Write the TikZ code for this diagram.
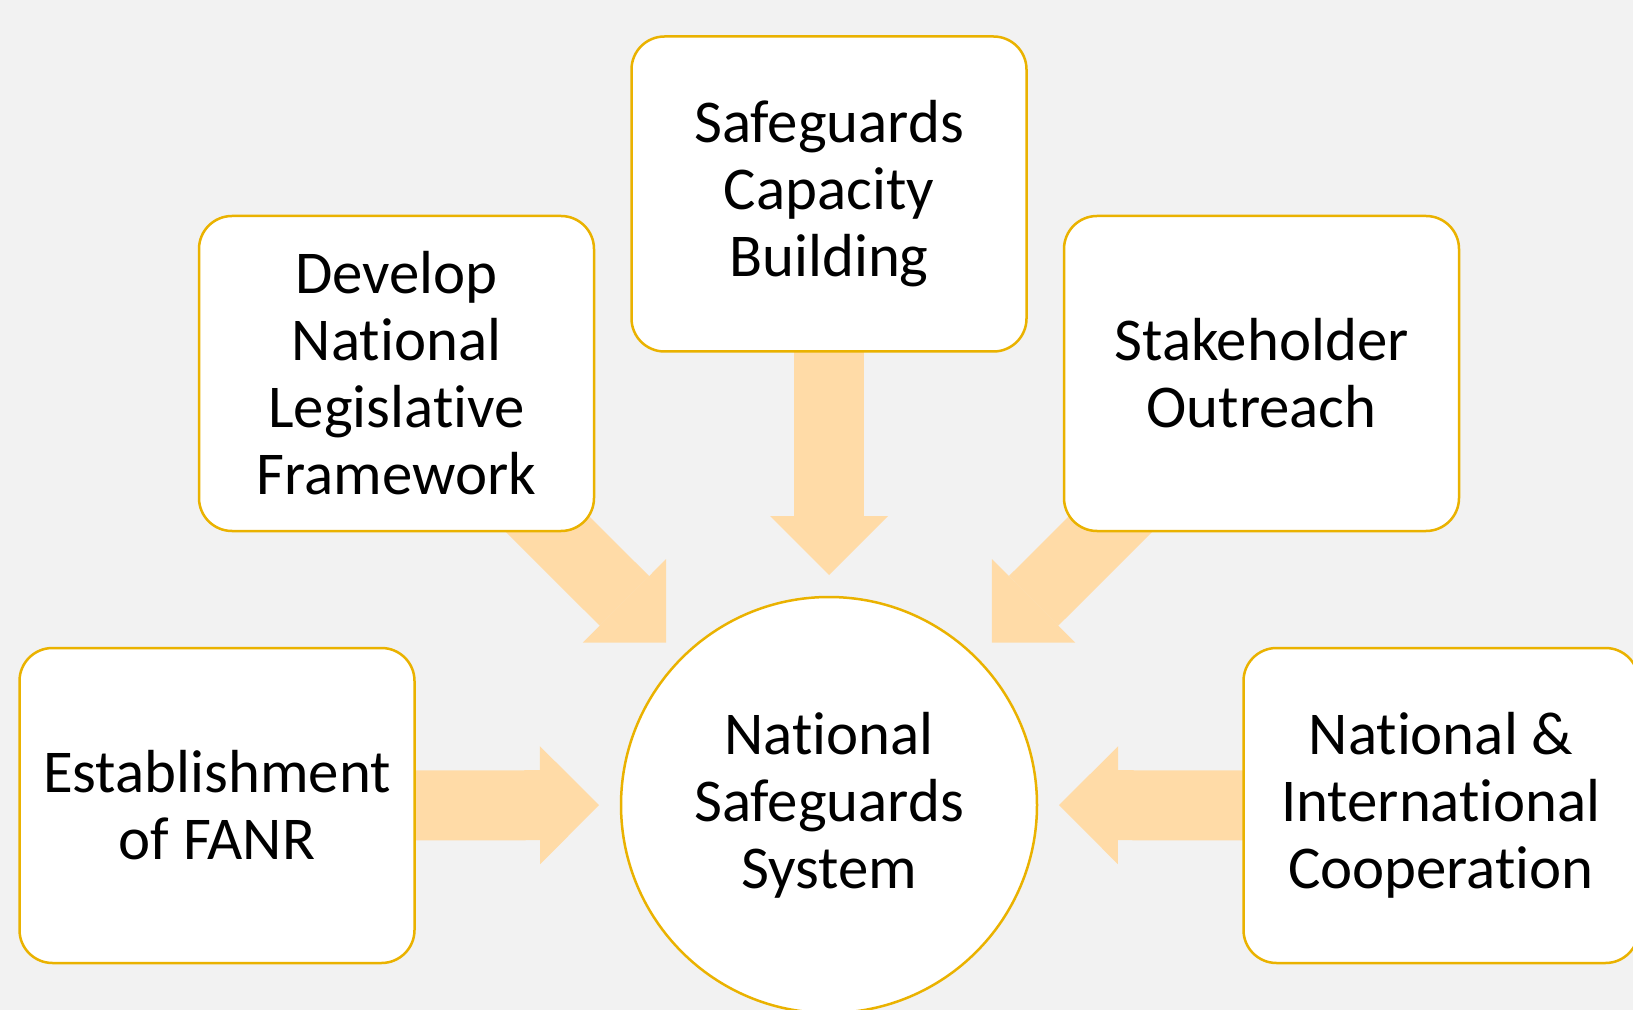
\documentclass[tikz,border=0pt]{standalone}
\usepackage{fontspec}
\setmainfont[Ligatures={NoCommon,NoContextual,NoRequired}]{Carlito}
\usetikzlibrary{arrows.meta}
\definecolor{bggray}{HTML}{F2F2F2}
\definecolor{gold}{RGB}{234,178,0}
\definecolor{peach}{RGB}{255,219,167}
\pgfdeclarelayer{back}
\pgfsetlayers{back,main}

\begin{document}
\begin{tikzpicture}[x=0.5pt,y=-0.5pt]
\tikzstyle{every node}=[align=center,font=\fontsize{30.4pt}{33.5pt}\selectfont];
\tikzstyle{box}=[draw=gold,line width=1.25pt,fill=white,rounded corners=16.5pt,minimum width=197.5pt,minimum height=157.5pt,inner sep=0pt];
\tikzstyle{feed}=[peach,line width=35pt,-{Triangle[width=59pt,length=29.5pt,line width=0pt]},shorten >=115pt];

\useasboundingbox (0,0) rectangle (1633,1010);

  \node[draw=gold,line width=1.25pt,fill=white,circle,minimum size=208pt,inner sep=0pt] (nss) at (829,805) {National\\Safeguards\\System};

  \node[box] (fanr) at (217,805.5) {Establishment\\of FANR};
  \node[box] (dev) at (396.5,373.5) {Develop\\National\\Legislative\\Framework};
  \node[box] (cap) at (829,194) {Safeguards\\Capacity\\Building};
  \node[box] (out) at (1261.5,373.5) {Stakeholder\\Outreach};
  \node[box] (coop) at (1441,805.5) {National \&\\International\\Cooperation};

\begin{pgfonlayer}{back}
\fill[bggray] (0,0) rectangle (1633,1010);
\foreach \from in {fanr,dev,cap,out,coop}
\draw [feed] (\from.center) -- (nss.center);
\end{pgfonlayer}

\end{tikzpicture}
\end{document}
